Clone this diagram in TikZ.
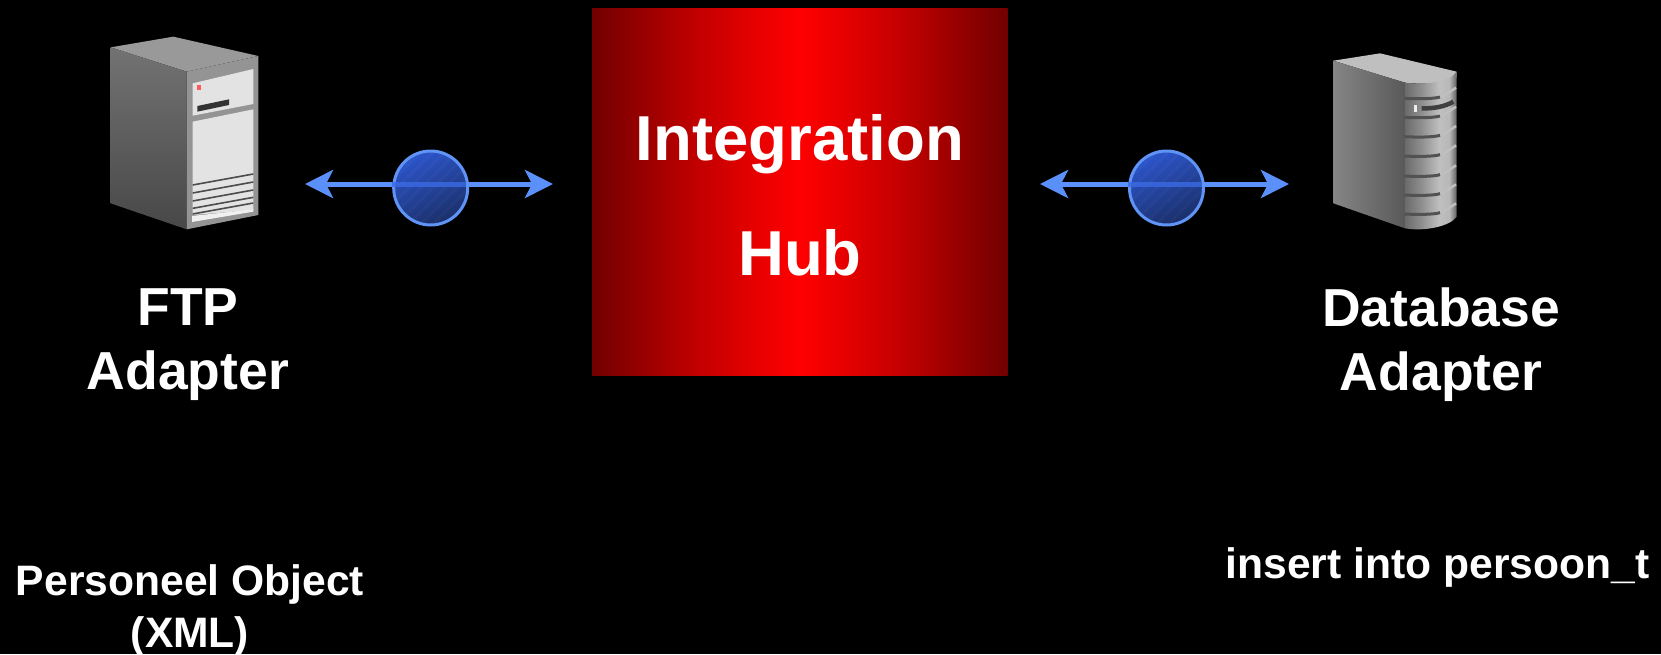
\documentclass[tikz,border=0pt]{standalone}
\usepackage{fontspec}
\setmainfont{Liberation Sans}
\usetikzlibrary{arrows.meta}
\definecolor{linkblue}{HTML}{5B90FA}
\definecolor{lineover}{HTML}{3A6BE4}
\definecolor{ringblue}{HTML}{5F93F5}
\definecolor{discA}{HTML}{2C55CC}
\definecolor{discB}{HTML}{1A2F68}
\definecolor{hubdark}{HTML}{720000}
\definecolor{hubmid}{HTML}{C40000}
\definecolor{hubnear}{HTML}{E80000}
\pgfdeclarehorizontalshading{hubshade}{100bp}{color(0bp)=(hubdark);color(25bp)=(hubdark);color(38bp)=(hubmid);color(45bp)=(hubnear);color(50bp)=(red);color(55bp)=(hubnear);color(62bp)=(hubmid);color(75bp)=(hubdark);color(100bp)=(hubdark)}
\pgfdeclarehorizontalshading{frontshade}{100bp}{color(0bp)=(black!58);color(25bp)=(black!58);color(40bp)=(black!45);color(58bp)=(black!25);color(68bp)=(black!28);color(75bp)=(black!62);color(100bp)=(black!62)}
\tikzset{
  x=1pt,y=-1pt,
  label big/.style={font=\fontsize{63.5}{70}\selectfont\bfseries,text=white,inner sep=0pt,anchor=center},
  label mid/.style={font=\fontsize{53.5}{63.5}\selectfont\bfseries,text=white,inner sep=0pt,align=center,anchor=center},
  label small/.style={font=\fontsize{42.6}{52}\selectfont\bfseries,text=white,inner sep=0pt,align=center,anchor=center},
  link/.style={draw=linkblue,line width=5pt,{Stealth[length=28pt,width=28pt,inset=7pt]}-{Stealth[length=28pt,width=28pt,inset=7pt]}},
  disc/.style={circle,minimum size=74pt,inner sep=0pt,draw=ringblue,line width=3pt,top color=discA,bottom color=discB,shading angle=25},
  overline/.style={draw=lineover,line width=5pt,opacity=.8},
  icon/.style={shift={(#1)},x=.33333pt,y=-.33333pt},
}
\begin{document}
\begin{tikzpicture}
\useasboundingbox (0,0) rectangle (1661,654);
\fill[black] (0,0) rectangle (1661,654);

% hub
\node[minimum width=415.5pt,minimum height=367pt,inner sep=0pt,shading=hubshade,anchor=north west] (hub) at (592,8.5) {};
\node[label big] (hubA) at (800,144) {Integration};
\node[label big] (hubB) at (800,253) {Hub};

% FTP server icon
\begin{scope}[icon={90,20}]
  \fill[black!40] (62,82) -- (250,50) -- (505,108) -- (290,155) -- cycle;
  \shade[top color=black!55,bottom color=black!72] (62,82) -- (290,155) -- (290,628) -- (62,550) -- cycle;
  \fill[black!42] (290,155) -- (505,108) -- (505,585) -- (290,628) -- cycle;
  \fill[black!11] (308,190) -- (490,147) -- (490,252) -- (308,287) -- cycle;
  \fill[black!11] (308,305) -- (490,268) -- (490,462) -- (308,495) -- cycle;
  \fill[black!80] (322,258) -- (417,238) -- (417,255) -- (322,275) -- cycle;
  \fill[red!65!white] (320,194) rectangle (334,210);
  \fill[black!11] (308,495) -- (490,462) -- (490,570) -- (308,585) -- cycle;
  \foreach \yy in {495,519,543,565,582}{
    \draw[black!70,line width=1.6pt] (308,\yy) -- (490,\yy-33);
  }
  \fill[black!6] (306,588) -- (490,568) -- (490,575) -- (306,606) -- cycle;
\end{scope}

% Database server icon
\begin{scope}[icon={1310,40}]
  \fill[black!25] (70,62) -- (210,40) -- (440,95) -- (440,112) .. controls (420,128) and (340,135) .. (285,128) -- cycle;
  \shade[left color=black!48,right color=black!65] (70,62) -- (285,128) -- (285,565) -- (70,490) -- cycle;
  \shade[shading=frontshade] (285,128) .. controls (340,135) and (420,128) .. (440,95) -- (440,530) .. controls (420,560) and (340,575) .. (285,565) -- cycle;
  \foreach \yy in {175,232,290,348,408,465,522}{
    \draw[black!68,line width=3pt] (283,\yy) .. controls (320,\yy+2) and (370,\yy+2) .. (390,\yy-4);
    \draw[black!25,line width=2.5pt] (395,\yy-3) -- (438,\yy-32);
  }
  \draw[black!75,line width=4.5pt] (335,205) .. controls (370,206) and (405,200) .. (430,185);
  \fill[black!8] (311,196) rectangle (322,215);
\end{scope}

% links
\coordinate (la) at (305,184);
\coordinate (lb) at (553,184);
\coordinate (ra) at (1040,184);
\coordinate (rb) at (1289,184);
\draw[link] (la) -- (lb);
\draw[link] (ra) -- (rb);
\node[disc] (dl) at (430.7,188) {};
\node[disc] (dr) at (1166.5,188) {};
\foreach \n in {dl,dr}{
  \begin{scope}
    \clip (\n) circle (35.5pt);
    \foreach \k in {-70,-58,...,70}{
      \draw[white,opacity=.025,line width=3pt] ([shift={(\k-40,40)}]\n.center) -- ([shift={(\k+40,-40)}]\n.center);
    }
  \end{scope}
}
\draw[overline] (dl.west) ++(0,-4) -- ++(74,0);
\draw[overline] (dr.west) ++(0,-4) -- ++(74,0);

% labels
\node[label mid] (ftp) at (188,344.5) {FTP\\Adapter};
\node[label mid] (dba) at (1441,344.5) {Database\\Adapter};
\node[label small] (obj) at (190,610) {Personeel Object\\(XML)};
\node[label small] (sql) at (1437.5,567) {insert into persoon\_t};
\end{tikzpicture}
\end{document}
